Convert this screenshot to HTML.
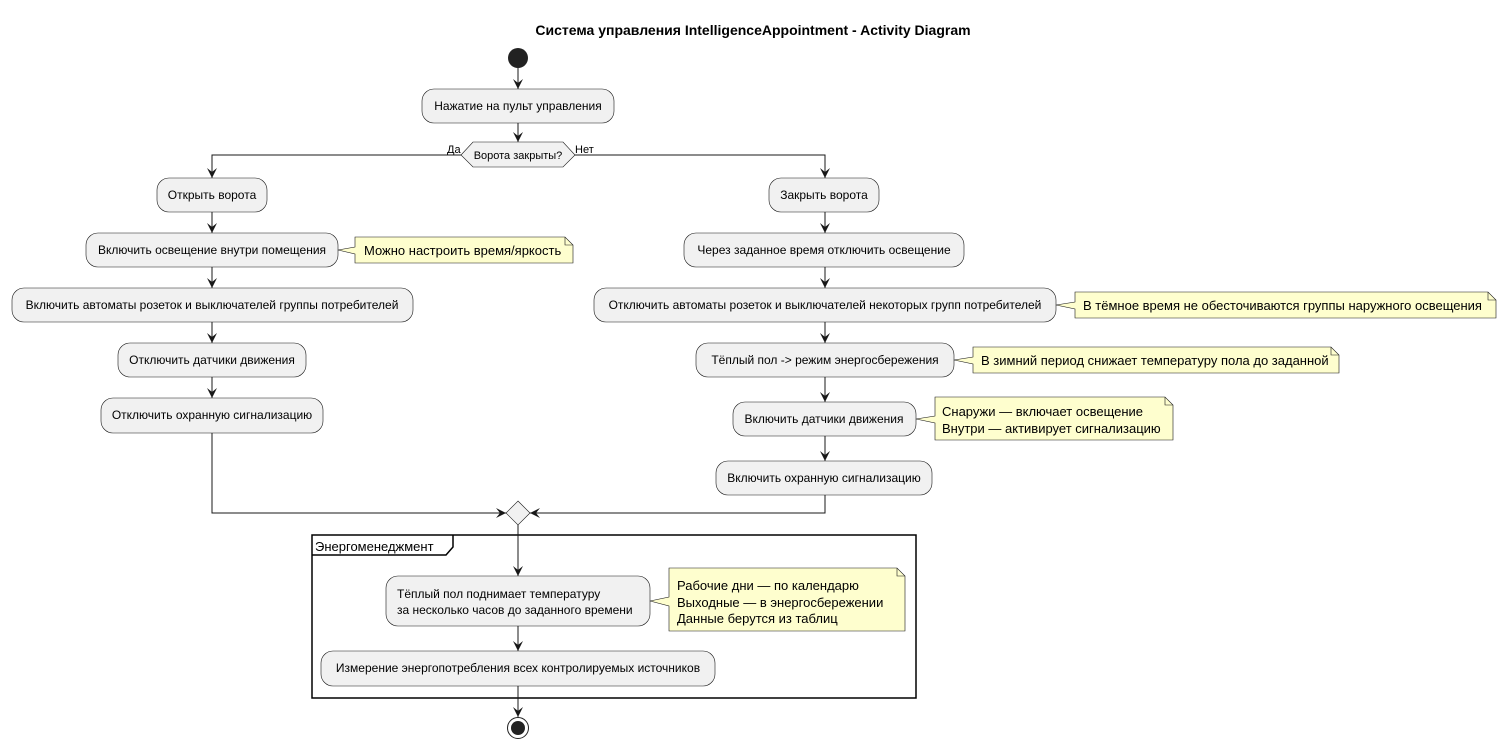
<!DOCTYPE html>
<html><head><meta charset="utf-8"><style>
html,body{margin:0;padding:0;background:#fff}
svg{display:block}
text{font-family:"Liberation Sans",sans-serif;font-size:12px;fill:#000}
.t{font-size:13px}
.b{fill:#f1f1f1;stroke:#181818;stroke-width:0.6}
.n{fill:#fefece;stroke:#181818;stroke-width:0.6}
.l{stroke:#181818;stroke-width:1;fill:none}
</style></head><body>
<svg width="1507" height="750" viewBox="0 0 1507 750" xmlns="http://www.w3.org/2000/svg">
<defs><marker id="ar" viewBox="0 0 10 10" refX="10" refY="5" markerWidth="10" markerHeight="10" markerUnits="userSpaceOnUse" orient="auto"><path d="M0,0 L10,5 L0,10 L4,5 Z" fill="#181818"/></marker></defs>
<text x="753" y="35" text-anchor="middle" style="font-weight:bold;font-size:14px">Система управления IntelligenceAppointment - Activity Diagram</text>
<circle cx="518" cy="58" r="10" fill="#222"/>
<line class="l" x1="518" y1="68" x2="518" y2="89" marker-end="url(#ar)"/>
<rect class="b" x="422" y="89" width="192" height="34" rx="12"/>
<text x="518" y="110" text-anchor="middle">Нажатие на пульт управления</text>
<line class="l" x1="518" y1="123" x2="518" y2="142" marker-end="url(#ar)"/>
<polygon class="b" points="461,155 473,142 563,142 575,155 563,167 473,167"/>
<text x="518" y="159" text-anchor="middle" style="font-size:11px">Ворота закрыты?</text>
<text x="447" y="153" style="font-size:11px">Да</text>
<text x="575" y="153" style="font-size:11px">Нет</text>
<polyline class="l" points="461,155 212,155 212,178" marker-end="url(#ar)"/>
<polyline class="l" points="575,155 825,155 825,178" marker-end="url(#ar)"/>
<rect class="b" x="157" y="178" width="110" height="34" rx="12"/><text x="212" y="199" text-anchor="middle">Открыть ворота</text>
<line class="l" x1="212" y1="212" x2="212" y2="233" marker-end="url(#ar)"/>
<rect class="b" x="86" y="233" width="252" height="34" rx="12"/><text x="212" y="254" text-anchor="middle">Включить освещение внутри помещения</text>
<path class="n" d="M355,237 L565,237 L573,245 L573,263 L355,263 L355,254 L338,250 L355,247 Z"/><path class="l" d="M565,237 L565,245 L573,245" style="stroke-width:0.6"/>
<text class="t" x="364" y="255">Можно настроить время/яркость</text>
<line class="l" x1="212" y1="267" x2="212" y2="288" marker-end="url(#ar)"/>
<rect class="b" x="12" y="288" width="401" height="34" rx="12"/><text x="212" y="309" text-anchor="middle">Включить автоматы розеток и выключателей группы потребителей</text>
<line class="l" x1="212" y1="322" x2="212" y2="343" marker-end="url(#ar)"/>
<rect class="b" x="118" y="343" width="188" height="34" rx="12"/><text x="212" y="364" text-anchor="middle">Отключить датчики движения</text>
<line class="l" x1="212" y1="377" x2="212" y2="398" marker-end="url(#ar)"/>
<rect class="b" x="101" y="398" width="222" height="35" rx="12"/><text x="212" y="419" text-anchor="middle">Отключить охранную сигнализацию</text>
<polyline class="l" points="212,433 212,513 506,513" marker-end="url(#ar)"/>
<rect class="b" x="769" y="178" width="110" height="34" rx="12"/><text x="824" y="199" text-anchor="middle">Закрыть ворота</text>
<line class="l" x1="825" y1="212" x2="825" y2="233" marker-end="url(#ar)"/>
<rect class="b" x="684" y="233" width="280" height="34" rx="12"/><text x="824" y="254" text-anchor="middle">Через заданное время отключить освещение</text>
<line class="l" x1="825" y1="267" x2="825" y2="288" marker-end="url(#ar)"/>
<rect class="b" x="594" y="288" width="462" height="34" rx="12"/><text x="825" y="309" text-anchor="middle">Отключить автоматы розеток и выключателей некоторых групп потребителей</text>
<path class="n" d="M1075,292 L1488,292 L1496,300 L1496,318 L1075,318 L1075,309 L1056,305 L1075,302 Z"/><path class="l" d="M1488,292 L1488,300 L1496,300" style="stroke-width:0.6"/>
<text class="t" x="1083" y="310">В тёмное время не обесточиваются группы наружного освещения</text>
<line class="l" x1="825" y1="322" x2="825" y2="343" marker-end="url(#ar)"/>
<rect class="b" x="696" y="343" width="258" height="34" rx="12"/><text x="825" y="364" text-anchor="middle">Тёплый пол -&gt; режим энергосбережения</text>
<path class="n" d="M973,347 L1331,347 L1339,355 L1339,373 L973,373 L973,364 L954,360 L973,357 Z"/><path class="l" d="M1331,347 L1331,355 L1339,355" style="stroke-width:0.6"/>
<text class="t" x="981" y="365">В зимний период снижает температуру пола до заданной</text>
<line class="l" x1="825" y1="377" x2="825" y2="402" marker-end="url(#ar)"/>
<rect class="b" x="733" y="402" width="183" height="34" rx="12"/><text x="824" y="423" text-anchor="middle">Включить датчики движения</text>
<path class="n" d="M935,397 L1165,397 L1173,405 L1173,440 L935,440 L935,423 L916,419 L935,416 Z"/><path class="l" d="M1165,397 L1165,405 L1173,405" style="stroke-width:0.6"/>
<text class="t" x="942" y="416">Снаружи — включает освещение</text>
<text class="t" x="942" y="433">Внутри — активирует сигнализацию</text>
<line class="l" x1="825" y1="436" x2="825" y2="461" marker-end="url(#ar)"/>
<rect class="b" x="716" y="461" width="216" height="34" rx="12"/><text x="824" y="482" text-anchor="middle">Включить охранную сигнализацию</text>
<polyline class="l" points="825,495 825,513 530,513" marker-end="url(#ar)"/>
<polygon class="b" points="518,501 530,513 518,525 506,513"/>
<rect x="312" y="535" width="604" height="163" fill="none" stroke="#000" stroke-width="1.5"/>
<path d="M312,555 L446,555 L453,547 L453,535" fill="none" stroke="#000" stroke-width="1.5"/>
<text x="315" y="551" style="font-size:13px">Энергоменеджмент</text>
<line class="l" x1="518" y1="525" x2="518" y2="576" marker-end="url(#ar)"/>
<rect class="b" x="386" y="576" width="264" height="50" rx="12"/>
<text x="397" y="598">Тёплый пол поднимает температуру</text>
<text x="397" y="614">за несколько часов до заданного времени</text>
<path class="n" d="M669,568 L897,568 L905,576 L905,631 L669,631 L669,606 L650,601 L669,597 Z"/><path class="l" d="M897,568 L897,576 L905,576" style="stroke-width:0.6"/>
<text class="t" x="677" y="590">Рабочие дни — по календарю</text>
<text class="t" x="677" y="607">Выходные — в энергосбережении</text>
<text class="t" x="677" y="623">Данные берутся из таблиц</text>
<line class="l" x1="518" y1="626" x2="518" y2="651" marker-end="url(#ar)"/>
<rect class="b" x="321" y="651" width="394" height="35" rx="12"/>
<text x="518" y="672" text-anchor="middle">Измерение энергопотребления всех контролируемых источников</text>
<line class="l" x1="518" y1="686" x2="518" y2="717" marker-end="url(#ar)"/>
<circle cx="518" cy="728" r="10.5" fill="#fff" stroke="#222" stroke-width="1"/>
<circle cx="518" cy="728" r="7" fill="#222"/>
</svg>
</body></html>
